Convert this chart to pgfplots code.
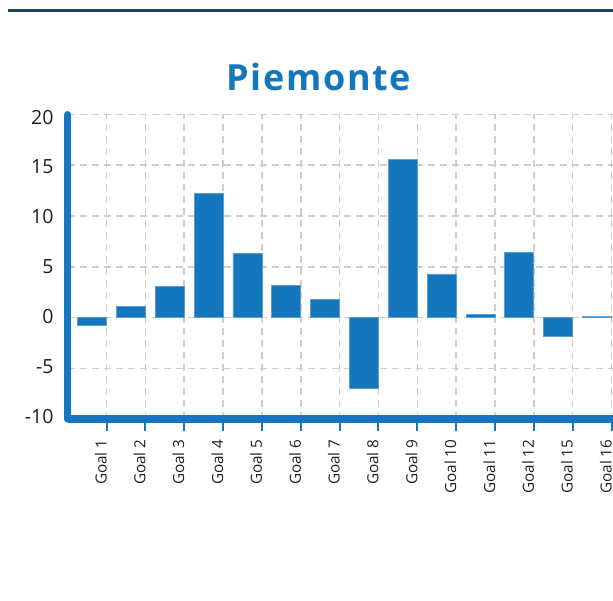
\documentclass[border=0pt]{standalone}
\usepackage{fontspec}
\setmainfont{Open Sans}
\usepackage{pgfplots}
\pgfplotsset{compat=1.18}
\definecolor{barblue}{RGB}{20,118,189}
\definecolor{axisblue}{RGB}{22,118,191}
\definecolor{gridgray}{RGB}{206,206,206}
\definecolor{topline}{RGB}{29,69,87}
\begin{document}
\begin{tikzpicture}
\useasboundingbox (0pt,0pt) rectangle (613pt,-600pt);
\clip (0pt,0pt) rectangle (613pt,-600pt);
\fill[topline] (8pt,-9.3pt) rectangle (613pt,-12.3pt);
\node[anchor=base, text=barblue, font=\fontsize{36}{42}\selectfont\bfseries\addfontfeature{LetterSpace=4.5}, inner sep=0pt] at (319pt,-90pt) {Piemonte};
\begin{axis}[
 at={(67.7pt,-419.3pt)}, anchor=south west,
 scale only axis, width=559.4pt, height=305pt,
 xmin=0, xmax=14.4, ymin=-10, ymax=20,
 axis line style={draw=none},
 ybar, bar width=0.746,
 xtick={1,...,14},
 xticklabels={Goal 1,Goal 2,Goal 3,Goal 4,Goal 5,Goal 6,Goal 7,Goal 8,Goal 9,Goal 10,Goal 11,Goal 12,Goal 15,Goal 16},
 ytick={-10,-5,0,5,10,15,20},
 yticklabels={-10,-5,0,5,10,15,20},
 xtick pos=left, ytick pos=left,
 grid=major,
 major grid style={gridgray, line width=1.5pt, dash pattern=on 7pt off 5pt},
 tick align=outside,
 major tick length=12pt,
 xtick style={axisblue, line width=2pt},
 ytick style={draw=none},
 xticklabel shift=8pt,
 xticklabel style={rotate=90, anchor=base east, inner sep=0pt, font=\fontsize{15.3}{18}\selectfont, text=black!88},
 yticklabel style={anchor=base east, inner sep=0pt, font=\fontsize{19.5}{23}\selectfont, text=black!88, xshift=-2pt, yshift={-4pt-0.95pt*\ticknum}},
 clip=false,
]
\addplot[fill=barblue, draw=barblue!70!white, line width=0.8pt] coordinates {
(0.627,-0.8) (1.627,1.1) (2.627,3.1) (3.627,12.2) (4.627,6.3) (5.627,3.2) (6.627,1.8)
(7.627,-7.0) (8.627,15.6) (9.627,4.3) (10.627,0.3) (11.627,6.4) (12.627,-1.8) (13.627,0.1)};
\draw[axisblue, line width=6.5pt, line cap=round] (axis cs:0,20) -- (axis cs:0,-10);
\draw[axisblue, line width=8pt] (axis cs:0,-10) -- (axis cs:14.4,-10);
\end{axis}
\end{tikzpicture}
\end{document}
